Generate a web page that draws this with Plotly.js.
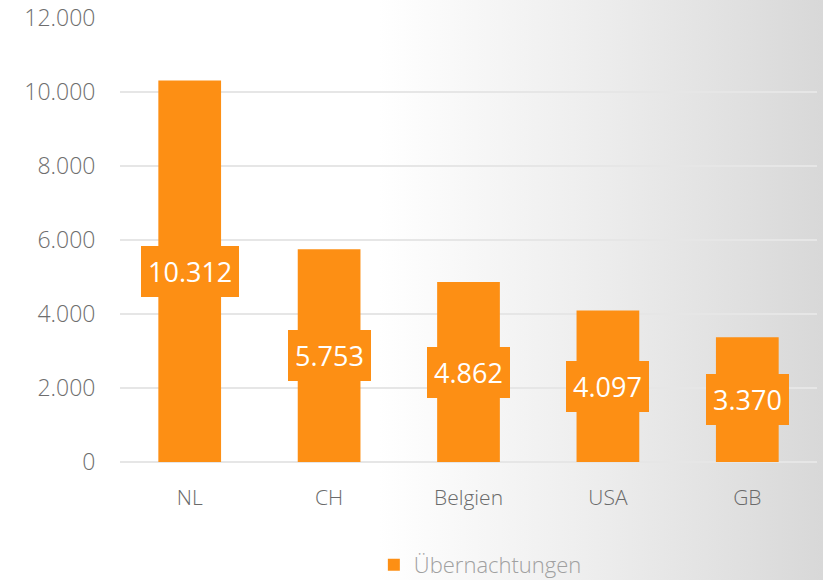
<!DOCTYPE html>
<html>
<head>
<meta charset="utf-8">
<script src="https://cdn.plot.ly/plotly-3.0.1.min.js"></script>
<style>
html,body{margin:0;padding:0;}
body{width:823px;height:580px;background:linear-gradient(to right,#ffffff 0%,#ffffff 46%,#ececec 74%,#d8d8d8 100%);}
#chart{width:823px;height:580px;}
</style>
</head>
<body>
<div id="chart"></div>
<script>
const categories = ['NL', 'CH', 'Belgien', 'USA', 'GB'];
const values = [10312, 5753, 4862, 4097, 3370];
const seriesName = 'Übernachtungen';
const yTicks = [0, 2000, 4000, 6000, 8000, 10000, 12000];

function fmt(v) {
  return String(v).replace(/\B(?=(\d{3})+(?!\d))/g, '.');
}

const orange = '#FD8F14';

const trace = {
  type: 'bar',
  x: categories,
  y: values,
  name: seriesName,
  marker: {color: orange},
  width: 0.45,
  showlegend: true,
  hoverinfo: 'none'
};

const annotations = categories.map((c, i) => ({
  x: c,
  y: values[i] / 2,
  xref: 'x',
  yref: 'y',
  text: fmt(values[i]),
  showarrow: false,
  bgcolor: orange,
  borderwidth: 0,
  borderpad: 7,
  font: {family: 'Open Sans, sans-serif', size: 27, color: '#ffffff'}
}));

const layout = {
  width: 823,
  height: 580,
  margin: {l: 120, r: 6, t: 18, b: 118, autoexpand: false},
  paper_bgcolor: 'rgba(0,0,0,0)',
  plot_bgcolor: 'rgba(0,0,0,0)',
  separators: ',.',
  bargap: 0.55,
  xaxis: {
    type: 'category',
    showgrid: false,
    showline: false,
    zeroline: false,
    ticks: 'outside',
    ticklen: 17,
    tickcolor: 'rgba(0,0,0,0)',
    tickfont: {family: 'Open Sans, sans-serif', size: 21, color: '#6a6a6a', weight: 300}
  },
  yaxis: {
    range: [0, 12000],
    tickvals: yTicks,
    ticktext: yTicks.map(fmt),
    showgrid: true,
    gridcolor: '#e6e6e6',
    gridwidth: 1.5,
    zeroline: true,
    zerolinecolor: '#e6e6e6',
    zerolinewidth: 1.5,
    showline: false,
    ticks: 'outside',
    ticklen: 19,
    tickcolor: 'rgba(0,0,0,0)',
    tickfont: {family: 'Open Sans, sans-serif', size: 23, color: '#6e6e6e', weight: 300}
  },
  showlegend: true,
  legend: {
    orientation: 'h',
    x: 0.517,
    xanchor: 'center',
    y: -0.232,
    yanchor: 'middle',
    itemwidth: 30,
    font: {family: 'Open Sans, sans-serif', size: 22, color: '#a0a0a0', weight: 300},
    bgcolor: 'rgba(0,0,0,0)'
  },
  annotations: annotations
};

Plotly.newPlot('chart', [trace], layout, {displayModeBar: false, staticPlot: true});
</script>
</body>
</html>
